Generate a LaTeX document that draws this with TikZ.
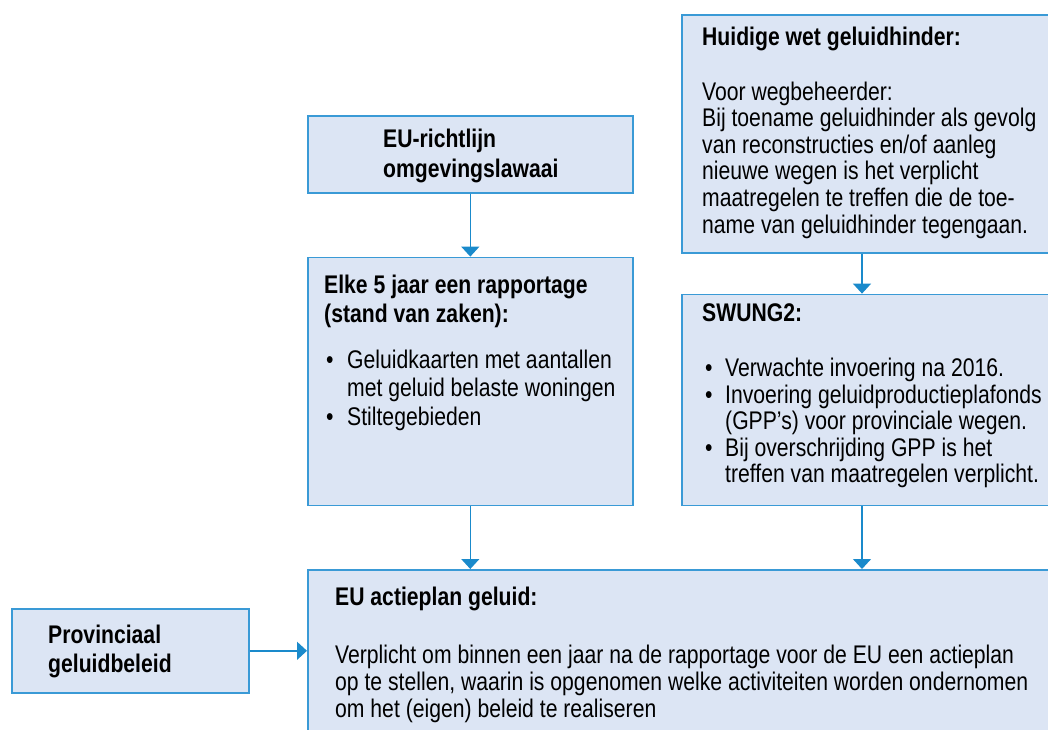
\documentclass[tikz,border=0pt]{standalone}
\usepackage{fontspec}
\setmainfont[FakeStretch=0.83]{Liberation Sans}
\usetikzlibrary{arrows.meta, positioning}

\definecolor{boxfill}{HTML}{DCE5F4}
\definecolor{boxline}{HTML}{3A9AD6}
\definecolor{arrowline}{HTML}{1A8ACB}

\begin{document}
\begin{tikzpicture}[
            x = 1pt, y = -1pt, % picture is laid out in pixels, y downwards
            > = {Triangle[width=18pt, length=10pt]}, % arrow head style
            every edge/.style = {draw = arrowline, line width = 1.4pt},
        ]
 \tikzstyle{boxstyle}=[
            shape = rectangle,
            draw = boxline,
            line width = 1.6pt,
            fill = boxfill,
            inner sep = 0pt
        ]
 \tikzstyle{textstyle}=[
            anchor = north west,
            align = left,
            inner sep = 0pt,
            font = \fontsize{25.5}{26.6}\selectfont
        ]
\useasboundingbox (0,0) rectangle (1048,729);
\clip (0,0) rectangle (1048,729);
% boxes
\node[boxstyle, anchor = north west, minimum width = 325pt, minimum height = 77pt] (richtlijn) at (307,115) {};
\node[boxstyle, below = 63pt of richtlijn, minimum width = 325pt, minimum height = 248pt] (rapport) {};
\node[boxstyle, anchor = north west, minimum width = 380pt, minimum height = 238pt] (wet) at (681,14) {};
\node[boxstyle, below = 40pt of wet, minimum width = 380pt, minimum height = 211pt] (swung) {};
\node[boxstyle, anchor = north west, minimum width = 760pt, minimum height = 200pt] (actieplan) at (307,569) {};
\node[boxstyle, anchor = north west, minimum width = 237pt, minimum height = 84pt] (beleid) at (11,608) {};
% texts
\node[textstyle] (richtlijntxt) at (383,128.4) {\bfseries EU-richtlijn\\[3.4pt]\bfseries omgevingslawaai};
\node[textstyle] (rapporttxt) at (324,274.4) {%
  \textbf{Elke 5 jaar een rapportage}\\[2.4pt]
  \textbf{(stand van zaken):}\\[19.4pt]
  \hspace*{2pt}\makebox[21pt][l]{\textbullet}Geluidkaarten met aantallen\\[1.9pt]
  \hspace*{23pt}met geluid belaste woningen\\[1.9pt]
  \hspace*{2pt}\makebox[21pt][l]{\textbullet}Stiltegebieden};
\node[textstyle] (wettxt) at (702,26.4) {%
  \textbf{Huidige wet geluidhinder:}\\[28.4pt]
  Voor wegbeheerder:\\
  Bij toename geluidhinder als gevolg\\
  van reconstructies en/of aanleg\\
  nieuwe wegen is het verplicht\\
  maatregelen te treffen die de toe-\\
  name van geluidhinder tegengaan.};
\node[textstyle] (swungtxt) at (702,303.4) {%
  \textbf{SWUNG2:}\\[28.4pt]
  \hspace*{3pt}\makebox[20pt][l]{\textbullet}Verwachte invoering na 2016.\\
  \hspace*{3pt}\makebox[20pt][l]{\textbullet}Invoering geluidproductieplafonds\\
  \hspace*{23pt}(GPP’s) voor provinciale wegen.\\
  \hspace*{3pt}\makebox[20pt][l]{\textbullet}Bij overschrijding GPP is het\\
  \hspace*{23pt}treffen van maatregelen verplicht.};
\node[textstyle] (actieplantxt) at (335,586.4) {%
  \textbf{EU actieplan geluid:}\\[31.4pt]
  Verplicht om binnen een jaar na de rapportage voor de EU een actieplan\\[0.4pt]
  op te stellen, waarin is opgenomen welke activiteiten worden ondernomen\\[0.4pt]
  om het (eigen) beleid te realiseren};
\node[textstyle] (beleidtxt) at (48,624.4) {\bfseries Provinciaal\\[2.4pt]\bfseries geluidbeleid};
% connectors
\coordinate (rcol) at (862,0);
\path[->] (richtlijn) edge (rapport);
\path[->] (wet.south -| rcol) edge (swung.north -| rcol);
\path[->] (rapport.south) edge (actieplan.north -| rapport.south);
\path[->] (swung.south -| rcol) edge (actieplan.north -| rcol);
\path[->] (beleid.east) edge (actieplan.west |- beleid.east);
\end{tikzpicture}
\end{document}
